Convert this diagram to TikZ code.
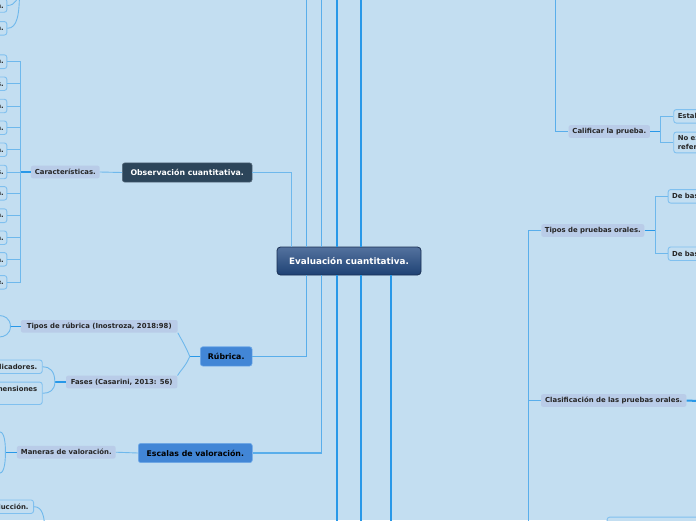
\documentclass[tikz,border=0pt]{standalone}
\usepackage{fontspec}
\setmainfont{DejaVu Sans}
\usetikzlibrary{positioning,calc}

\definecolor{bgblue}{RGB}{195,222,241}
\definecolor{trunkblue}{RGB}{40,152,232}
\definecolor{linkblue}{RGB}{110,184,236}
\definecolor{leafedge}{RGB}{128,192,239}
\definecolor{labelfill}{RGB}{185,204,232}
\definecolor{roottop}{RGB}{84,114,158}
\definecolor{rootbottom}{RGB}{30,66,116}
\definecolor{rootedge}{RGB}{26,48,84}
\definecolor{obsfill}{RGB}{44,69,90}
\definecolor{topicfill}{RGB}{66,134,214}
\definecolor{topicedge}{RGB}{112,170,232}

\begin{document}
\begin{tikzpicture}[
    x=1pt, y=-1pt,
    root/.style={draw=rootedge, line width=0.8pt, rounded corners=3.5pt, top color=roottop, bottom color=rootbottom, text=white, font=\bfseries\fontsize{8.8}{10}\selectfont, minimum width=144pt, minimum height=28pt, inner sep=0pt},
    topic/.style={draw=topicedge, line width=0.6pt, rounded corners=2.5pt, fill=topicfill, font=\bfseries\fontsize{7.8}{9}\selectfont, minimum height=19.3pt, inner sep=0pt},
    topicdark/.style={topic, draw=obsfill!80!white, fill=obsfill, text=white},
    label/.style={fill=labelfill, rounded corners=2pt, text=black!85, font=\bfseries\fontsize{6.9}{8}\selectfont, minimum height=12.6pt, inner sep=0pt},
    leaf/.style={draw=leafedge, line width=0.9pt, rounded corners=2.5pt, fill=bgblue, text=black!85, font=\bfseries\fontsize{6.9}{8.5}\selectfont, minimum height=13.5pt, inner xsep=3pt, inner ysep=3.5pt, align=left},
    link/.style={linkblue, line width=0.9pt},
    branch/.style={linkblue!70!trunkblue, line width=1.2pt},
    stub/.style={trunkblue, line width=1.4pt},
    trunk/.style={trunkblue, line width=2pt}
]
\useasboundingbox (0,0) rectangle (696,520);
\fill[bgblue] (0,0) rectangle (696,520);

% Off-page ends of the branches
\coordinate (up1) at (306.7,-10);
\coordinate (up2) at (321.7,-10);
\coordinate (up3) at (337.3,-10);
\coordinate (up4) at (361,-10);
\coordinate (dn3) at (337.3,530);
\coordinate (dn4) at (361,530);
\coordinate (dn5) at (391,530);
\coordinate (calup) at (555.7,-10);
\coordinate (oraldn) at (528.3,530);
\coordinate (clar) at (710,401.5);
\coordinate (tfork) at (19.5,-10);
\coordinate (introdn) at (45,535);

% Central topic
\node[root] (eval) at (349,261) {Evaluación cuantitativa.};

% Main topics on left
\node[topicdark, minimum width=129.7pt] (obs) at (187.2,172.5) {Observación cuantitativa.};
\node[topic, minimum width=51.7pt] (rub) at (226.2,356.4) {Rúbrica.};
\node[topic, minimum width=114pt] (esc) at (195.3,453) {Escalas de valoración.};

% Subtopics
\node[label, minimum width=68.7pt] (car) at (65.3,172) {Características.};
\node[label, minimum width=156.7pt] (tip) at (99.3,326.3) {Tipos de rúbrica (Inostroza, 2018:98)};
\node[label, minimum width=111.3pt] (fas) at (121.7,382) {Fases (Casarini, 2013: 56)};
\node[label, minimum width=98.7pt] (man) at (66.3,452.2) {Maneras de valoración.};
\node[label, minimum width=81.3pt] (cal) at (609.3,131.5) {Calificar la prueba.};
\node[label, minimum width=103pt] (tpo) at (592.8,230.5) {Tipos de pruebas orales.};
\node[label, minimum width=145.3pt] (cla) at (613.7,400.5) {Clasificación de las pruebas orales.};

% Leaves cut by the page edge
\foreach \i/\y/\t in {1/61.7/Objetiva., 2/83.7/Precisas., 3/106/Sistemática., 4/127.7/Planificada., 5/149.7/Estructurada., 6/172/Medibles., 7/193.3/Controlada., 8/215.7/Registrada., 9/237.7/Cuantificada., 10/259.3/Numérica., 11/282.3/Verificable.}
    \node[leaf, anchor=east] (c\i) at (7.3,\y) {\t};
\node[leaf, anchor=east] (t1) at (7.3,5.5) {Puntuación.};
\node[leaf, anchor=east] (t2) at (7.3,28.3) {Frecuencia.};
\node[leaf, anchor=east, inner xsep=5pt] (ind) at (42.7,366.7) {Indicadores.};
\node[leaf, anchor=north east, inner xsep=5pt, text height=6.3pt, text depth=9pt] (dim) at (42.7,381.7) {Dimensiones};
\node[leaf, anchor=east, inner xsep=5pt] (intro) at (34,506.7) {Introducción.};
\node[leaf, anchor=west, inner xsep=4pt] (est) at (673.3,116.3) {Establecer criterios.};
\node[leaf, anchor=west, inner xsep=4pt] (noe) at (673.3,142.5) {No existe un\\referente.};
\node[leaf, anchor=west, inner xsep=4pt] (db1) at (667.7,196.3) {De base estructurada.};
\node[leaf, anchor=west, inner xsep=4pt] (db2) at (667.7,253.7) {De base libre.};
\node[leaf, anchor=north west, minimum width=120pt, minimum height=40pt] (pbox) at (606.7,516.7) {};

% Branches of the central topic
\draw[trunk] (eval.north -| up3) -- (up3);
\draw[trunk] (eval.north -| up4) -- (up4);
\draw[branch] (eval.north -| up1) -- (up1);
\draw[branch] (eval.north -| up2) -- (up2);
\draw[trunk] (eval.south -| dn3) -- (dn3);
\draw[trunk] (eval.south -| dn4) -- (dn4);
\draw[stub] (eval.south -| dn5) -- (dn5);
\draw[link] (obs.east) -| ([xshift=15pt]eval.north west);
\draw[branch] (rub.east) -| (eval.south -| up1);
\draw[branch] (esc.east) -| (eval.south -| up2);

% Observación
\draw[link] (car.east) -- (obs.west);
\draw[stub] (car.west) -- ++(-10.6,0) coordinate (carfork);
\foreach \i in {1,...,11}
    \draw[link] (carfork) |- (c\i.east);
\draw[link] (t2.east) .. controls +(10,0) and +(0,25) .. (tfork);
\draw[link] (t1.east) .. controls +(8,0) and +(-1,8) .. (tfork);

% Rúbrica
\draw[stub] (rub.west) -- ++(-10.3,0) coordinate (rubfork);
\draw[link] (rubfork) .. controls +(-4,-10) and +(2,4) .. (tip.south east);
\draw[link] (rubfork) .. controls +(-4,10) and +(2,-4) .. (fas.north east);
\draw[stub] (tip.west) -- ++(-10.3,0) coordinate (tipfork);
\draw[link] (tipfork) .. controls +(0,-8) and +(5,0) .. (-1,315.5);
\draw[link] (tipfork) .. controls +(0,8) and +(5,0) .. (-1,337);
\draw[stub] (fas.west) -- ++(-11,0) coordinate (fasfork);
\draw[link] (fasfork) .. controls +(0,-11) and +(7,0) .. (ind.east);
\draw[link] (fasfork) .. controls +(0,8) and +(7,0) .. (dim.east);

% Escalas
\draw[link] (man.east) -- (esc.west);
\draw[stub] (man.west) -- ++(-11.3,0) coordinate (manfork);
\draw[link] (manfork) .. controls +(0,-15) and +(4,0) .. (-1,431.5);
\draw[link] (manfork) .. controls +(0,15) and +(4,0) .. (-1,473.5);
\draw[link] (intro.east) .. controls +(8,0) and +(0,-20) .. (introdn);

% Right side
\draw[branch] (calup) |- (cal.west);
\draw[stub] (cal.east) -- ++(10.7,0) coordinate (calfork);
\draw[link] (calfork) |- (est.west);
\draw[link] (calfork) |- (noe.west);
\draw[branch] (oraldn) |- (tpo.west);
\draw[branch] (oraldn) |- (cla.west);
\draw[stub] (tpo.east) -- ++(11,0) coordinate (tpofork);
\draw[link] (tpofork) |- (db1.west);
\draw[link] (tpofork) |- (db2.west);
\draw[trunk] (cla.east) -- (clar);
\end{tikzpicture}
\end{document}
